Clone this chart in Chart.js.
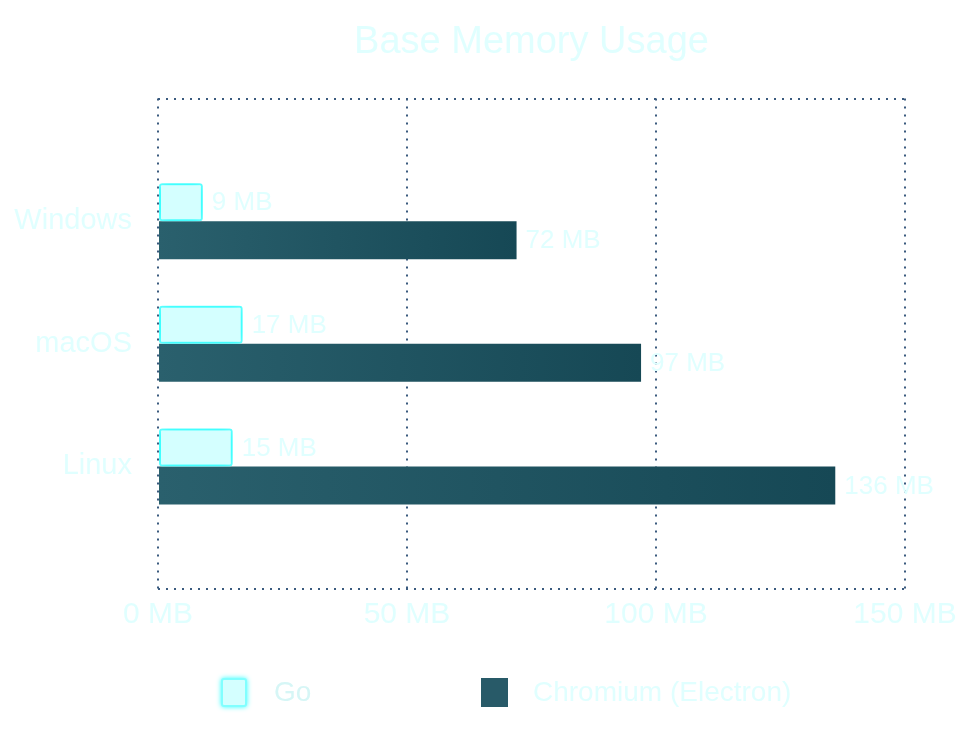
<!DOCTYPE html>
<html>
<head>
<meta charset="utf-8">
<script src="https://cdn.jsdelivr.net/npm/chart.js@4"></script>
<style>
  body { margin: 0; background: #fff; }
  #wrap { position: relative; width: 970px; height: 733px; }
  #legend { position: absolute; left: 0; top: 0; width: 970px; height: 733px; pointer-events: none;
            font-family: "Liberation Sans", Arial, sans-serif; font-size: 28px; color: #e0ffff; }
  #legend .box { position: absolute; }
  #legend .txt { position: absolute; line-height: 32px; }
  #legend .go-box { left: 221px; top: 678px; width: 22px; height: 25px; background: #d4ffff;
                    border: 2px solid rgba(120, 255, 255, 0.9); border-radius: 3px;
                    box-shadow: 0 0 5px rgba(0, 255, 255, 0.8); }
  #legend .go-txt { left: 274px; top: 676px; color: #d6f6f6; }
  #legend .cr-box { left: 481px; top: 678px; width: 27px; height: 29px; background: #285a68; }
  #legend .cr-txt { left: 533px; top: 676px; }
</style>
</head>
<body>
<div id="wrap">
  <canvas id="memoryChart" width="970" height="733"></canvas>
  <div id="legend"></div>
</div>
<script>
var platforms = ['Windows', 'macOS', 'Linux'];
var goMemory = [9, 17, 15];
var chromiumMemory = [72, 97, 136];
var seriesNames = ['Go', 'Chromium (Electron)'];
var xTicks = [0, 50, 100, 150];

var textColor = '#e0ffff';
var gridColor = '#3a5a7e';
var fontFamily = '"Liberation Sans", Arial, sans-serif';

// empty slots at both ends so the categories sit like in the original
var labels = [''].concat(platforms, ['']);
function pad(arr) { return [null].concat(arr, [null]); }

function chromiumGradient(c) {
    var chart = c.chart;
    if (!chart.chartArea) return '#285a68';
    var x = chart.scales.x;
    var x0 = x.getPixelForValue(0);
    var x1 = x.getPixelForValue(c.raw || 0);
    if (x1 - x0 < 1) return '#285a68';
    var g = chart.ctx.createLinearGradient(x0, 0, x1, 0);
    g.addColorStop(0, '#2a606d');
    g.addColorStop(1, '#164855');
    return g;
}

var glowPlugin = {
    id: 'glow',
    beforeDatasetDraw: function (chart, args) {
        if (args.index !== 0) return;
        chart.ctx.save();
        chart.ctx.shadowColor = 'rgba(0, 255, 255, 1)';
        chart.ctx.shadowBlur = 12;
    },
    afterDatasetDraw: function (chart, args) {
        if (args.index !== 0) return;
        chart.ctx.restore();
    }
};

var valueLabels = {
    id: 'valueLabels',
    afterDatasetsDraw: function (chart) {
        var ctx = chart.ctx;
        ctx.save();
        ctx.font = '26px ' + fontFamily;
        ctx.fillStyle = textColor;
        ctx.textBaseline = 'middle';
        ctx.textAlign = 'left';
        chart.data.datasets.forEach(function (ds, i) {
            chart.getDatasetMeta(i).data.forEach(function (bar, j) {
                var v = ds.data[j];
                if (v === null) return;
                ctx.fillText(v + ' MB', bar.x + 9, bar.y + 1);
            });
        });
        ctx.restore();
    }
};

var ctx = document.getElementById('memoryChart').getContext('2d');
var memoryChart = new Chart(ctx, {
    type: 'bar',
    data: {
        labels: labels,
        datasets: [{
            label: seriesNames[0],
            data: pad(goMemory),
            backgroundColor: '#d4ffff',
            borderColor: 'rgba(110, 255, 255, 0.95)',
            borderWidth: 2,
            borderRadius: 3,
            borderSkipped: false
        }, {
            label: seriesNames[1],
            data: pad(chromiumMemory),
            backgroundColor: chromiumGradient,
            borderWidth: 0
        }]
    },
    options: {
        indexAxis: 'y',
        responsive: false,
        animation: false,
        categoryPercentage: 0.62,
        barPercentage: 1.0,
        layout: { padding: { left: 14, right: 65, top: 0, bottom: 92 } },
        plugins: {
            legend: { display: false },
            tooltip: { enabled: false },
            title: {
                display: true,
                text: 'Base Memory Usage',
                color: textColor,
                fullSize: false,
                font: { family: fontFamily, size: 38, weight: 'normal' },
                padding: { top: 20, bottom: 33 }
            }
        },
        scales: {
            x: {
                min: xTicks[0],
                max: xTicks[xTicks.length - 1],
                afterBuildTicks: function (axis) {
                    axis.ticks = xTicks.map(function (v) { return { value: v }; });
                },
                ticks: {
                    color: textColor,
                    font: { family: fontFamily, size: 30 },
                    padding: 8,
                    callback: function (v) { return v + ' MB'; }
                },
                grid: { color: gridColor, lineWidth: 2, drawTicks: false },
                border: { display: false, dash: [2, 6] }
            },
            y: {
                offset: false,
                afterFit: function (scale) { scale.width = 144; },
                ticks: {
                    color: textColor,
                    font: { family: fontFamily, size: 29 },
                    padding: 26
                },
                grid: {
                    offset: false,
                    drawTicks: false,
                    lineWidth: 2,
                    color: function (c) {
                        return (c.index === 0 || c.index === labels.length - 1) ? gridColor : 'rgba(0,0,0,0)';
                    }
                },
                border: { display: false, dash: [2, 6] }
            }
        }
    },
    plugins: [glowPlugin, valueLabels]
});

// legend as html, built from the dataset names
var legendEl = document.getElementById('legend');
var cls = ['go', 'cr'];
memoryChart.data.datasets.forEach(function (ds, i) {
    var box = document.createElement('span');
    box.className = 'box ' + cls[i] + '-box';
    var txt = document.createElement('span');
    txt.className = 'txt ' + cls[i] + '-txt';
    txt.textContent = ds.label;
    legendEl.appendChild(box);
    legendEl.appendChild(txt);
});
</script>
</body>
</html>
